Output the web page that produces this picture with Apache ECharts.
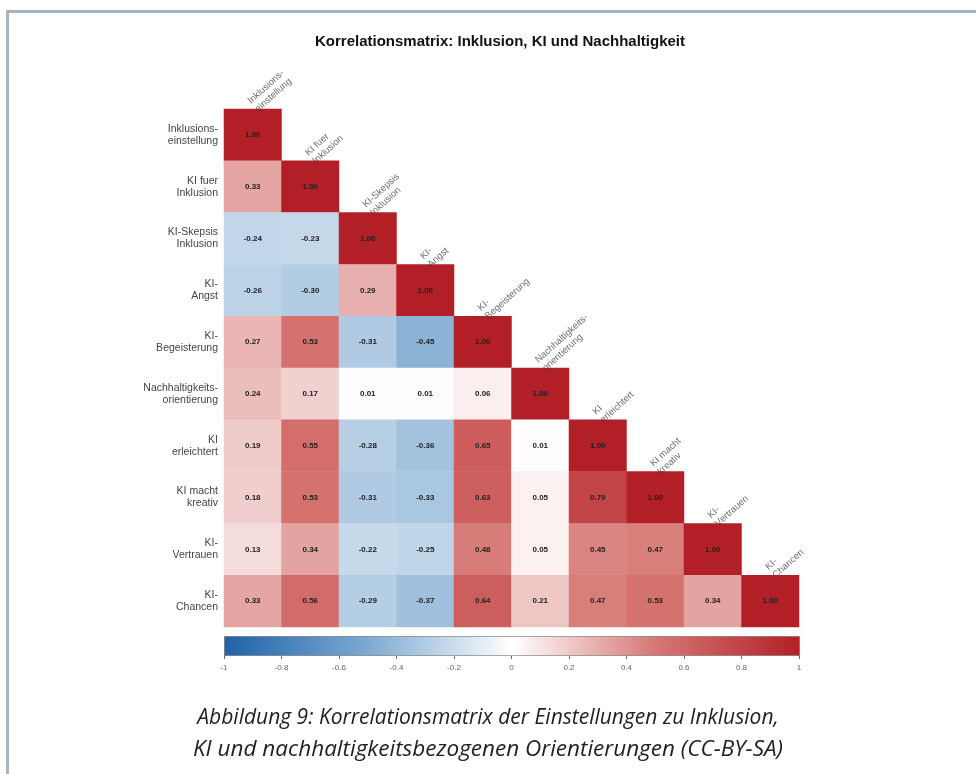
<!DOCTYPE html>
<html>
<head>
<meta charset="utf-8">
<script src="https://cdn.jsdelivr.net/npm/echarts@6/dist/echarts.min.js"></script>
<style>
  html, body { margin: 0; padding: 0; background: #ffffff; }
  #frame {
    position: absolute; left: 6px; top: 10px; width: 970px; height: 764px;
    border-top: 3px solid #aab4c9; border-left: 3px solid #aab4c9; box-sizing: border-box;
  }
  #chart { position: absolute; left: 0; top: 0; width: 976px; height: 774px; }
</style>
</head>
<body>
<div id="frame"></div>
<div id="chart"></div>
<script>
// Variable names (rows and columns of the matrix)
const variables = [
  'Inklusions-\neinstellung',
  'KI fuer\nInklusion',
  'KI-Skepsis\nInklusion',
  'KI-\nAngst',
  'KI-\nBegeisterung',
  'Nachhaltigkeits-\norientierung',
  'KI\nerleichtert',
  'KI macht\nkreativ',
  'KI-\nVertrauen',
  'KI-\nChancen'
];

// Lower triangle of the correlation matrix, one row per variable
const corrRows = [
  [1.00],
  [0.33, 1.00],
  [-0.24, -0.23, 1.00],
  [-0.26, -0.30, 0.29, 1.00],
  [0.27, 0.53, -0.31, -0.45, 1.00],
  [0.24, 0.17, 0.01, 0.01, 0.06, 1.00],
  [0.19, 0.55, -0.28, -0.36, 0.65, 0.01, 1.00],
  [0.18, 0.53, -0.31, -0.33, 0.63, 0.05, 0.79, 1.00],
  [0.13, 0.34, -0.22, -0.25, 0.48, 0.05, 0.45, 0.47, 1.00],
  [0.33, 0.56, -0.29, -0.37, 0.64, 0.21, 0.47, 0.53, 0.34, 1.00]
];

// Colour scale range and its tick step
const scaleMin = -1;
const scaleMax = 1;
const scaleStep = 0.2;

// Diverging palette, evenly spaced from -1 to 1
const palette = ['#1f62a8', '#7eaad1', '#ffffff', '#d67773', '#b31f26'];

const titleText = 'Korrelationsmatrix: Inklusion, KI und Nachhaltigkeit';
const captionLine1 = 'Abbildung 9: Korrelationsmatrix der Einstellungen zu Inklusion,';
const captionLine2 = 'KI und nachhaltigkeitsbezogenen Orientierungen (CC-BY-SA)';

const cells = [];
corrRows.forEach((row, i) => {
  row.forEach((v, j) => cells.push([j, i, v]));
});
const diagonal = variables.map((name, i) => ({ name: name, value: [i, i] }));

const captionStyle = {
  fontFamily: 'Open Sans', fontStyle: 'italic', fontWeight: 'normal', color: '#222'
};

const chart = echarts.init(document.getElementById('chart'), null, { renderer: 'canvas' });

chart.setOption({
  animation: false,
  backgroundColor: 'transparent',
  title: [
    {
      text: titleText,
      left: 500, top: 34, textAlign: 'center', padding: 0,
      textStyle: { fontFamily: 'Liberation Sans', fontSize: 15, fontWeight: 'bold', color: '#111' }
    },
    {
      text: captionLine1,
      left: 488, top: 704, textAlign: 'center', padding: 0,
      textStyle: Object.assign({ fontSize: 21, lineHeight: 28 }, captionStyle)
    },
    {
      text: captionLine2,
      left: 488, top: 736, textAlign: 'center', padding: 0,
      textStyle: Object.assign({ fontSize: 22.5, lineHeight: 28 }, captionStyle)
    }
  ],
  grid: [
    { left: 224, top: 109, width: 575, height: 518, show: false },
    { left: 224, top: 636, width: 575, height: 19, show: false }
  ],
  xAxis: [
    {
      type: 'category', gridIndex: 0, data: variables, show: false
    },
    {
      type: 'value', gridIndex: 1, min: scaleMin, max: scaleMax, interval: scaleStep,
      position: 'bottom',
      axisLine: { show: false },
      axisTick: { show: true, length: 4, lineStyle: { color: '#666', width: 1 } },
      splitLine: { show: false },
      axisLabel: { fontFamily: 'Liberation Sans', fontSize: 8, color: '#666', margin: 9 }
    }
  ],
  yAxis: [
    {
      type: 'category', gridIndex: 0, data: variables, inverse: true,
      axisLine: { show: false }, axisTick: { show: false }, splitLine: { show: false },
      axisLabel: {
        fontFamily: 'Liberation Sans', fontSize: 10.5, lineHeight: 12, color: '#444',
        margin: 6, align: 'right'
      }
    },
    {
      type: 'value', gridIndex: 1, min: 0, max: 1, show: false
    }
  ],
  visualMap: {
    type: 'continuous',
    seriesIndex: 0,
    min: scaleMin, max: scaleMax,
    orient: 'horizontal',
    left: 224, top: 636,
    itemWidth: 19, itemHeight: 575,
    calculable: false, hoverLink: false, showLabel: false,
    text: null,
    padding: 0,
    borderColor: '#777', borderWidth: 1,
    inRange: { color: palette }
  },
  series: [
    {
      type: 'heatmap',
      xAxisIndex: 0, yAxisIndex: 0,
      data: cells,
      itemStyle: { borderWidth: 0 },
      label: {
        show: true,
        formatter: p => p.value[2].toFixed(2),
        fontFamily: 'Liberation Sans', fontSize: 8, fontWeight: 'bold', color: '#222'
      },
      emphasis: { disabled: true }
    },
    {
      type: 'scatter',
      xAxisIndex: 0, yAxisIndex: 0,
      data: diagonal,
      symbolSize: 1,
      itemStyle: { color: 'rgba(0,0,0,0)' },
      silent: true,
      label: {
        show: true,
        formatter: p => p.name,
        position: [8, -20],
        align: 'left', verticalAlign: 'bottom',
        rotate: 42,
        fontFamily: 'Liberation Sans', fontSize: 9.5, lineHeight: 11, color: '#444'
      }
    }
  ]
});
</script>
</body>
</html>
